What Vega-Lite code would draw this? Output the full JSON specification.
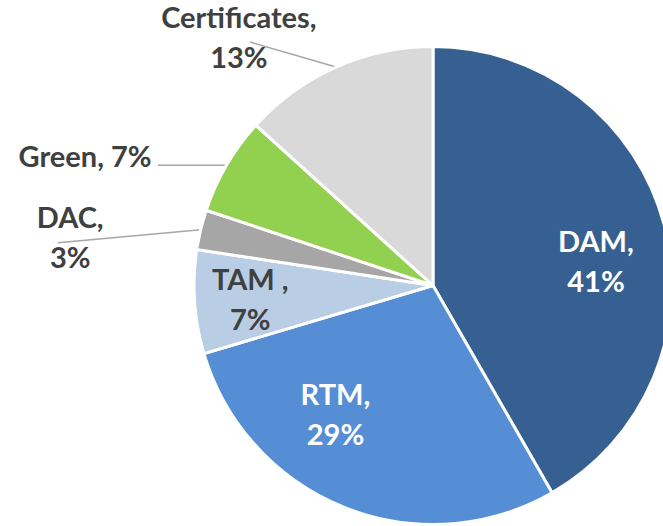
{
  "$schema": "https://vega.github.io/schema/vega-lite/v6.json",
  "width": 663,
  "height": 526,
  "padding": 0,
  "autosize": {"type": "none"},
  "background": "white",
  "config": {"view": {"stroke": null}},
  "data": {
    "values": [
      {"name": "DAM", "value": 41.7, "label": "DAM,\n41%"},
      {"name": "RTM", "value": 28.7, "label": "RTM,\n29%"},
      {"name": "TAM", "value": 7.0, "label": "TAM ,\n7%"},
      {"name": "DAC", "value": 2.7, "label": "DAC,\n3%"},
      {"name": "Green", "value": 6.6, "label": "Green, 7%"},
      {"name": "Certificates", "value": 13.3, "label": "Certificates,\n13%"}
    ]
  },
  "transform": [
    {"window": [{"op": "row_number", "as": "rank"}]},
    {"stack": "value", "groupby": [], "sort": [{"field": "rank", "order": "ascending"}], "as": ["v0", "v1"]},
    {"calculate": "(datum.v0 + datum.v1) / 2", "as": "vmid"}
  ],
  "layer": [
    {
      "transform": [
        {"filter": "datum.name === 'DAC' || datum.name === 'Green' || datum.name === 'Certificates'"},
        {"calculate": "2 * PI * datum.vmid / 100", "as": "ang"},
        {"calculate": "239 * sin(datum.ang)", "as": "lx"},
        {"calculate": "239 * cos(datum.ang)", "as": "ly"},
        {"calculate": "datum.lx + (datum.name === 'DAC' ? -142.6 : datum.name === 'Green' ? -68.5 : -86)", "as": "lx2"},
        {"calculate": "datum.ly + (datum.name === 'DAC' ? -13 : datum.name === 'Green' ? 0 : 25)", "as": "ly2"}
      ],
      "mark": {"type": "rule", "color": "#A6A6A6", "strokeWidth": 1.5},
      "encoding": {
        "x": {"field": "lx", "type": "quantitative", "scale": {"domain": [-433, 230], "nice": false, "zero": false}, "axis": null},
        "y": {"field": "ly", "type": "quantitative", "scale": {"domain": [-240.5, 285.5], "nice": false, "zero": false}, "axis": null},
        "x2": {"field": "lx2"},
        "y2": {"field": "ly2"}
      }
    },
    {
      "encoding": {
        "x": {"datum": 0, "type": "quantitative", "scale": {"domain": [-433, 230], "nice": false, "zero": false}, "axis": null},
        "y": {"datum": 0, "type": "quantitative", "scale": {"domain": [-240.5, 285.5], "nice": false, "zero": false}, "axis": null}
      },
      "layer": [
        {
          "mark": {"type": "arc", "outerRadius": 239, "stroke": "white", "strokeWidth": 3},
          "encoding": {
            "theta": {"field": "v0", "type": "quantitative", "scale": {"domain": [0, 100], "range": [0, 6.283185307179586]}},
            "theta2": {"field": "v1"},
            "color": {
              "field": "name",
              "type": "nominal",
              "scale": {
                "domain": ["DAM", "RTM", "TAM", "DAC", "Green", "Certificates"],
                "range": ["#376092", "#558ED5", "#B9CDE5", "#A6A6A6", "#92D050", "#D9D9D9"]
              },
              "legend": null
            }
          }
        },
        {
          "transform": [{"filter": "datum.name === 'DAM'"}],
          "mark": {"type": "text", "radius": 164.5, "dx": 4, "dy": 0, "font": "Lato", "fontSize": 29, "fontWeight": "bold", "color": "white", "lineBreak": "\n", "lineHeight": 40, "align": "center", "baseline": "middle"},
          "encoding": {"theta": {"field": "vmid", "type": "quantitative"}, "text": {"field": "label"}}
        },
        {
          "transform": [{"filter": "datum.name === 'RTM'"}],
          "mark": {"type": "text", "radius": 163.2, "dx": -37, "dy": -41, "font": "Lato", "fontSize": 29, "fontWeight": "bold", "color": "white", "lineBreak": "\n", "lineHeight": 40, "align": "center", "baseline": "middle"},
          "encoding": {"theta": {"field": "vmid", "type": "quantitative"}, "text": {"field": "label"}}
        },
        {
          "transform": [{"filter": "datum.name === 'TAM'"}],
          "mark": {"type": "text", "radius": 183.2, "dx": 0, "dy": -17, "font": "Lato", "fontSize": 29, "fontWeight": "bold", "color": "#404040", "lineBreak": "\n", "lineHeight": 40, "align": "center", "baseline": "middle"},
          "encoding": {"theta": {"field": "vmid", "type": "quantitative"}, "text": {"field": "label"}}
        },
        {
          "transform": [{"filter": "datum.name === 'DAC'"}],
          "mark": {"type": "text", "radius": 365.9, "dx": -7, "dy": 19, "font": "Lato", "fontSize": 29, "fontWeight": "bold", "color": "#404040", "lineBreak": "\n", "lineHeight": 40, "align": "center", "baseline": "middle"},
          "encoding": {"theta": {"field": "vmid", "type": "quantitative"}, "text": {"field": "label"}}
        },
        {
          "transform": [{"filter": "datum.name === 'Green'"}],
          "mark": {"type": "text", "radius": 370.3, "dx": -28, "dy": 59, "font": "Lato", "fontSize": 29, "fontWeight": "bold", "color": "#404040", "lineBreak": "\n", "lineHeight": 40, "align": "center", "baseline": "middle"},
          "encoding": {"theta": {"field": "vmid", "type": "quantitative"}, "text": {"field": "label"}}
        },
        {
          "transform": [{"filter": "datum.name === 'Certificates'"}],
          "mark": {"type": "text", "radius": 313.3, "dx": -67, "dy": 20, "font": "Lato", "fontSize": 29, "fontWeight": "bold", "color": "#404040", "lineBreak": "\n", "lineHeight": 40, "align": "center", "baseline": "middle"},
          "encoding": {"theta": {"field": "vmid", "type": "quantitative"}, "text": {"field": "label"}}
        }
      ]
    }
  ]
}
